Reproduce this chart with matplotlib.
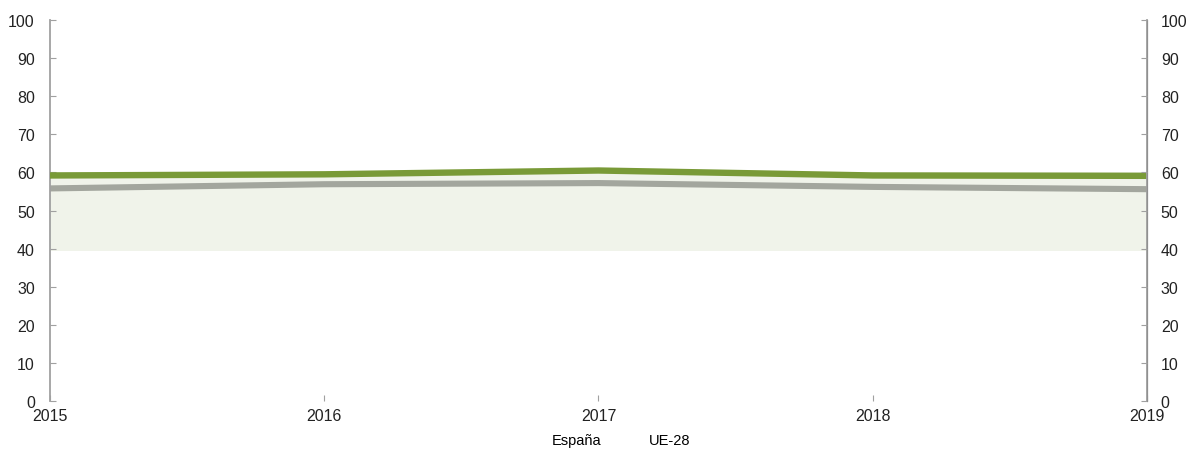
import matplotlib.pyplot as plt
import numpy as np

years = [2015, 2016, 2017, 2018, 2019]
espana = [59.2, 59.5, 60.5, 59.2, 59.1]
ue28 = [55.8, 56.9, 57.2, 56.2, 55.6]
band_low, band_high = 39.5, 60

green = '#799a37'
grey = '#a3a69e'
band_col = '#f0f3ea'
axis_col = '#a0a0a0'

plt.rcParams['font.family'] = ['Liberation Sans', 'DejaVu Sans']

fig = plt.figure(figsize=(11.94, 4.52), dpi=100)
ax = fig.add_axes([0.0419, 0.1106, 0.9187, 0.8429])

ax.fill_between(years, band_low, band_high, color=band_col, lw=0, zorder=1)
l1, = ax.plot(years, espana, color=green, lw=4.6, solid_capstyle='round', zorder=3, label='España')
l2, = ax.plot(years, ue28, color=grey, lw=4.4, solid_capstyle='round', zorder=2, label='UE-28')

ax.set_xlim(2015, 2019)
ax.set_ylim(0, 100)
ax.set_yticks(np.arange(0, 101, 10))
ax.set_xticks(years)

for s in ['top', 'bottom']:
    ax.spines[s].set_visible(False)
ax.spines['left'].set_color(axis_col)
ax.spines['left'].set_linewidth(1.3)

ax.tick_params(axis='y', direction='in', length=4, color=axis_col, labelsize=11.5,
               labelcolor='#222222', pad=11)
ax.tick_params(axis='x', direction='in', length=4, color=axis_col, labelsize=11.5,
               labelcolor='#222222', pad=5)

ax2 = ax.twinx()
ax2.set_ylim(0, 100)
ax2.set_yticks(np.arange(0, 101, 10))
for s in ['top', 'bottom', 'left']:
    ax2.spines[s].set_visible(False)
ax2.spines['right'].set_color(axis_col)
ax2.spines['right'].set_linewidth(1.3)
ax2.tick_params(axis='y', direction='in', length=4, color=axis_col, labelsize=11.5,
                labelcolor='#222222', pad=10)

leg = fig.legend(handles=[l1, l2], loc='lower center', bbox_to_anchor=(0.52, -0.02), ncol=2,
                 frameon=False, handlelength=0, handletextpad=0, columnspacing=3.3, fontsize=10.5)
for h in leg.legend_handles:
    h.set_visible(False)

fig.savefig('out.png', dpi=100)
